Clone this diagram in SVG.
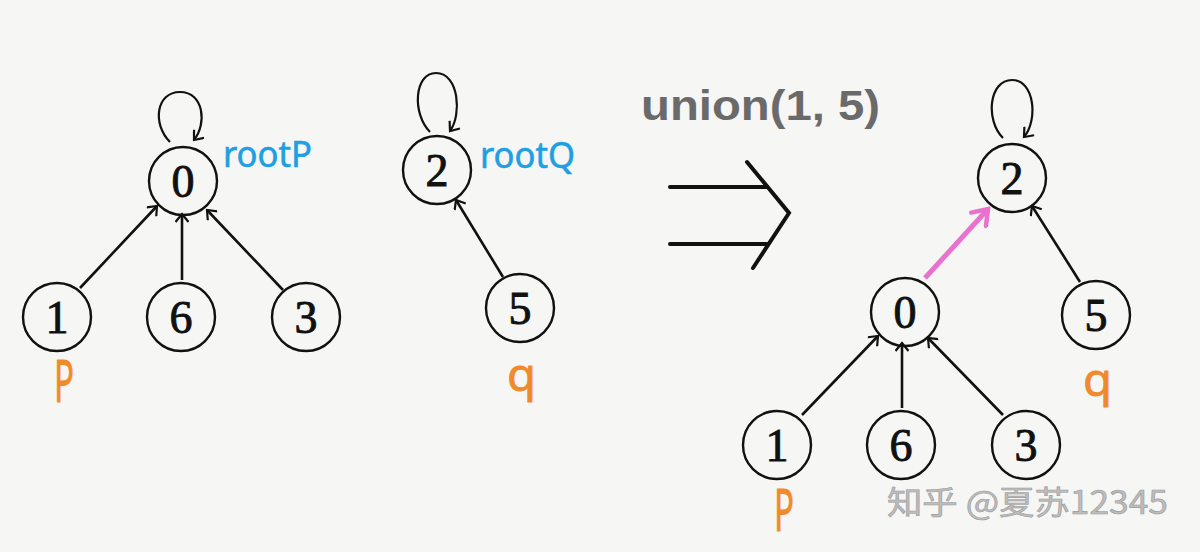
<svg xmlns="http://www.w3.org/2000/svg" width="1200" height="552" viewBox="0 0 1200 552">
<defs>
<style>
.node circle{fill:none;stroke:#111;stroke-width:2.4}
.node text{font-family:"Liberation Serif","DejaVu Serif",serif;font-size:46px;fill:#111;stroke:#111;stroke-width:0.9;text-anchor:middle}
.edge{fill:none;stroke:#111;stroke-width:2.6;marker-end:url(#ah)}
.loop{fill:none;stroke:#111;stroke-width:2.2;marker-end:url(#ah)}
.hand{font-family:"Noto Sans","Liberation Sans",sans-serif}
.blue{fill:#1e9fe3;font-size:36px;stroke:#1e9fe3;stroke-width:0.6}
.orange{fill:#f08a2a;stroke:#f08a2a;stroke-width:0.8}
.imp{fill:none;stroke:#111;stroke-width:4;stroke-linecap:round}
</style>
<marker id="ah" viewBox="0 0 14 14" refX="11" refY="7" markerWidth="14" markerHeight="14" orient="auto" markerUnits="userSpaceOnUse">
<path d="M3,0.5 L11,7 L3,13.5" fill="none" stroke="#111" stroke-width="2.2"/>
</marker>
<marker id="pk" viewBox="0 0 24 24" refX="20" refY="12" markerWidth="24" markerHeight="24" orient="auto" markerUnits="userSpaceOnUse">
<path d="M6,2 L20,12 L6,22" fill="none" stroke="#ea72cf" stroke-width="4.5" stroke-linecap="round"/>
</marker>
</defs>
<rect width="1200" height="552" fill="#f6f6f4"/>

<g id="connectors">
<path class="loop" d="M170,142 C152,124 156,92 180,92 C204,92 207,124 194,140"/>
<path class="edge" d="M80,288 L157,206"/>
<path class="edge" d="M182,280 L182,214"/>
<path class="edge" d="M283,290 L207,210"/>
<path class="loop" d="M430,132 C412,114 414,73 436,73 C459,73 462,115 450,131"/>
<path class="edge" d="M503,277 L456,200"/>
<path class="loop" d="M1003,138 C985,120 989,80 1012,80 C1035,80 1038,121 1024,137"/>
<path class="edge" d="M1080,282 L1032,206"/>
<path d="M925,278 L988,209" fill="none" stroke="#ea72cf" stroke-width="5" marker-end="url(#pk)"/>
<path class="edge" d="M802,415 L878,336"/>
<path class="edge" d="M902,408 L902,343"/>
<path class="edge" d="M1003,415 L928,338"/>
</g>

<g id="node-0-left" class="node"><circle cx="183" cy="181" r="34"/><text x="183" y="197">0</text></g>
<g id="node-1-left" class="node"><circle cx="57" cy="317" r="34"/><text x="57" y="333">1</text></g>
<g id="node-6-left" class="node"><circle cx="181" cy="317" r="34"/><text x="181" y="333">6</text></g>
<g id="node-3-left" class="node"><circle cx="306" cy="317" r="34"/><text x="306" y="333">3</text></g>
<g id="node-2-mid" class="node"><circle cx="437" cy="170" r="34"/><text x="437" y="186">2</text></g>
<g id="node-5-mid" class="node"><circle cx="520" cy="308" r="34"/><text x="520" y="324">5</text></g>
<g id="node-2-right" class="node"><circle cx="1012" cy="178" r="34"/><text x="1012" y="194">2</text></g>
<g id="node-0-right" class="node"><circle cx="905" cy="312" r="34"/><text x="905" y="328">0</text></g>
<g id="node-5-right" class="node"><circle cx="1096" cy="315" r="34"/><text x="1096" y="331">5</text></g>
<g id="node-1-right" class="node"><circle cx="777" cy="445" r="34"/><text x="777" y="461">1</text></g>
<g id="node-6-right" class="node"><circle cx="901" cy="445" r="34"/><text x="901" y="461">6</text></g>
<g id="node-3-right" class="node"><circle cx="1026" cy="445" r="34"/><text x="1026" y="461">3</text></g>

<g id="labels">
<text class="hand blue" x="223" y="167" textLength="89" lengthAdjust="spacingAndGlyphs">rootP</text>
<text class="hand blue" x="480" y="168" textLength="95" lengthAdjust="spacingAndGlyphs">rootQ</text>
<text class="hand orange" x="54" y="402" font-size="58" textLength="20" lengthAdjust="spacingAndGlyphs">P</text>
<text class="hand orange" x="507" y="391" font-size="46" textLength="29" lengthAdjust="spacingAndGlyphs">q</text>
<text class="hand orange" x="774" y="531" font-size="58" textLength="20" lengthAdjust="spacingAndGlyphs">P</text>
<text class="hand orange" x="1083" y="396" font-size="46" textLength="29" lengthAdjust="spacingAndGlyphs">q</text>
<text x="641" y="120" font-family="Liberation Sans,Arial,sans-serif" font-weight="bold" font-size="42" fill="#6a6a6a" textLength="239" lengthAdjust="spacingAndGlyphs">union(1, 5)</text>
</g>

<g id="implies">
<line class="imp" x1="670" y1="187" x2="767" y2="187"/>
<line class="imp" x1="670" y1="244" x2="767" y2="244"/>
<polyline class="imp" points="747,162 789,213 753,268"/>
</g>

<text x="887" y="514" font-family="Noto Sans CJK SC,sans-serif" font-size="32" fill="#bdbdbd" stroke="#9a9a9a" stroke-width="0.6" textLength="281" lengthAdjust="spacingAndGlyphs">知乎 @夏苏12345</text>
</svg>
